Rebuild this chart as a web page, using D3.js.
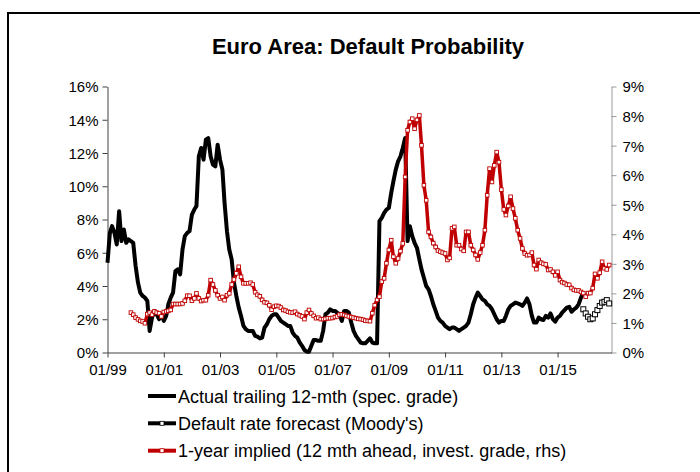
<!DOCTYPE html>
<html>
<head>
<meta charset="utf-8">
<script src="https://cdn.jsdelivr.net/npm/d3@7/dist/d3.min.js"></script>
<style>
  html, body { margin: 0; padding: 0; background: #fff; }
  svg { display: block; font-family: "Liberation Sans", Arial, sans-serif; }
</style>
</head>
<body>
<svg id="chart" width="700" height="472"></svg>
<script>
// ---- Data (monthly, in percent) ----
const actualStart = "1999-01";
// Actual trailing 12-month default rate, speculative grade (left axis)
const actual = [
  5.4, 7.2, 7.6, 7.2, 6.5, 8.5, 6.7, 7.4, 6.6, 6.8, 6.7, 6.6,
  5.2, 4.2, 3.6, 3.4, 3.3, 3.1, 1.3, 2.1, 2.5, 2.3, 2.0, 2.3,
  1.9, 2.2, 2.9, 3.3, 3.6, 4.9, 5.0, 4.7, 6.2, 7.0, 7.2, 7.3,
  8.3, 8.6, 8.8, 11.8, 12.3, 11.6, 12.8, 12.9, 11.8, 11.3, 11.2, 12.5,
  11.6, 11.0, 9.0, 7.3, 6.2, 5.6, 4.2, 3.4, 2.7, 2.2, 1.6, 1.4,
  1.3, 1.3, 1.3, 1.0, 0.95, 0.85, 0.9, 1.5, 1.7, 2.0, 2.2, 2.3,
  2.3, 2.1, 1.9, 1.8, 1.7, 1.6, 1.6, 1.2, 1.0, 0.9, 0.6, 0.4,
  0.15, 0.05, 0.05, 0.4, 0.75, 0.75, 0.7, 0.7, 1.3, 2.3, 2.4, 2.6,
  2.5, 2.5, 2.4, 2.3, 1.9, 2.5, 2.5, 2.4, 1.8, 1.3, 1.0, 0.8,
  0.6, 0.55, 0.55, 0.7, 0.85, 0.6, 0.55, 0.55, 7.9, 8.1, 8.4, 8.6,
  8.7, 9.6, 10.3, 11.0, 11.5, 11.8, 12.3, 12.9, 6.7, 7.6, 7.0, 6.6,
  6.3, 5.6, 5.0, 4.5, 4.0, 3.8, 3.4, 2.9, 2.5, 2.1, 1.9, 1.8,
  1.6, 1.5, 1.4, 1.5, 1.5, 1.4, 1.3, 1.4, 1.5, 1.6, 1.8, 2.3,
  2.9, 3.3, 3.6, 3.4, 3.2, 3.1, 2.9, 2.8, 2.6, 2.3, 2.0, 1.8,
  1.9, 1.9, 2.2, 2.6, 2.8, 2.9, 3.0, 2.95, 2.9, 2.8, 3.0, 3.25,
  2.9, 2.2, 1.8, 1.8, 2.1, 2.0, 1.95, 2.2, 2.1, 2.35, 2.0, 1.85,
  2.1, 2.2, 2.4, 2.55, 2.7, 2.75, 2.45, 2.6, 2.7, 2.9, 3.3, 3.6
];

// Moody's default rate forecast (left axis)
const forecastStart = "2015-12";
const forecast = [2.6, 2.35, 2.15, 2.0, 2.05, 2.3, 2.55, 2.8, 3.0, 3.05, 3.15, 2.95];

// 1-year implied default probability, investment grade, 12 months ahead (right axis)
const impliedStart = "1999-11";
const implied = [
  1.35, 1.28,
  1.18, 1.12, 1.07, 1.05, 0.99, 1.3, 1.35, 1.28, 1.39, 1.35, 1.33, 1.22,
  1.37, 1.39, 1.41, 1.44, 1.64, 1.64, 1.64, 1.64, 1.66, 1.75, 1.92, 1.92,
  1.75, 1.83, 2.0, 1.83, 1.74, 1.77, 1.77, 1.94, 2.45, 2.3, 2.1, 1.94,
  1.83, 1.88, 1.77, 1.94, 2.0, 2.3, 2.47, 2.68, 2.9, 2.56, 2.34, 2.34,
  2.34, 2.36, 2.3, 2.04, 1.95, 1.9, 1.78, 1.7, 1.68, 1.6, 1.45, 1.55,
  1.58, 1.57, 1.52, 1.44, 1.42, 1.38, 1.36, 1.35, 1.38, 1.3, 1.26, 1.22,
  1.13, 1.35, 1.44, 1.32, 1.24, 1.16, 1.18, 1.13, 1.13, 1.14, 1.16, 1.16,
  1.17, 1.2, 1.22, 1.28, 1.29, 1.27, 1.24, 1.22, 1.2, 1.18, 1.16, 1.14,
  1.13, 1.11, 1.08, 1.07, 1.06, 1.33, 1.6, 1.78, 1.89, 2.4, 2.51, 3.02,
  3.47, 3.8, 3.24, 3.02, 3.18, 3.43, 3.69, 5.94, 7.52, 7.8, 7.91, 7.57,
  7.87, 8.02, 7.01, 5.66, 5.15, 4.08, 3.91, 3.7, 3.57, 3.45, 3.41, 3.38,
  3.35, 3.13, 3.2, 4.2, 4.25, 3.63, 3.63, 3.5, 3.44, 4.08, 4.08, 3.63,
  3.47, 3.3, 3.15, 3.38, 3.63, 4.14, 5.32, 6.22, 5.77, 6.33, 6.78, 6.44,
  5.51, 4.84, 4.65, 4.96, 5.27, 4.87, 4.54, 4.14, 3.86, 3.52, 3.35, 3.29,
  3.3, 3.38, 2.96, 2.82, 3.13, 3.04, 3.0, 2.98, 2.79, 2.81, 2.73, 2.61,
  2.73, 2.45, 2.38, 2.35, 2.3, 2.29, 2.18, 2.12, 2.1, 2.1, 2.05, 2.01,
  1.89, 2.01, 2.01, 2.18, 2.66, 2.51, 2.7, 3.07, 2.85, 2.81, 2.96
];

const xDomainLabels = ["1999-01", "2016-12"];
const xTickLabels = ["01/99", "01/01", "01/03", "01/05", "01/07", "01/09", "01/11", "01/13", "01/15"];
const leftTicks = [0, 2, 4, 6, 8, 10, 12, 14, 16];
const rightTicks = [0, 1, 2, 3, 4, 5, 6, 7, 8, 9];

const title = "Euro Area: Default Probability";
const legendLabels = [
  "Actual trailing 12-mth (spec. grade)",
  "Default rate forecast (Moody's)",
  "1-year implied (12 mth ahead, invest. grade, rhs)"
];

// ---- Helpers ----
const parseYM = d3.timeParse("%Y-%m");
const parseTick = d3.timeParse("%m/%y");
const toSeries = (start, values) => {
  const s = parseYM(start);
  return values.map((v, i) => ({ date: d3.timeMonth.offset(s, i), value: v }));
};

const actualData = toSeries(actualStart, actual);
const forecastData = toSeries(forecastStart, forecast);
const impliedData = toSeries(impliedStart, implied);

// ---- Layout ----
const svg = d3.select("#chart");
const plot = { left: 107.5, right: 611.5, top: 86.5, bottom: 352.5 };

// Outer frame
svg.append("rect")
  .attr("x", 8).attr("y", 13)
  .attr("width", 720).attr("height", 500)
  .attr("fill", "none").attr("stroke", "#000").attr("stroke-width", 2);

svg.append("text")
  .attr("x", 368).attr("y", 54)
  .attr("text-anchor", "middle")
  .attr("font-size", 22).attr("font-weight", "bold")
  .text(title);

const x = d3.scaleTime()
  .domain(xDomainLabels.map(parseYM))
  .range([plot.left, plot.right]);
const yL = d3.scaleLinear().domain([0, 16]).range([plot.bottom, plot.top]);
const yR = d3.scaleLinear().domain([0, 9]).range([plot.bottom, plot.top]);

const fmtPct = d => d + "%";
const tickFont = 15;

// Left axis
const gL = svg.append("g").attr("transform", `translate(${plot.left},0)`)
  .call(d3.axisLeft(yL).tickValues(leftTicks).tickFormat(fmtPct).tickSize(5).tickSizeOuter(0));
// Right axis
const gR = svg.append("g").attr("transform", `translate(${plot.right},0)`)
  .call(d3.axisRight(yR).tickValues(rightTicks).tickFormat(fmtPct).tickSize(5).tickSizeOuter(0));
// Bottom axis
const tickDates = xTickLabels.map(parseTick);
const gB = svg.append("g").attr("transform", `translate(0,${plot.bottom})`)
  .call(d3.axisBottom(x).tickValues(tickDates).tickFormat((d, i) => xTickLabels[i]).tickSize(5).tickSizeOuter(0));

[gL, gB].forEach(g => {
  g.select(".domain").attr("stroke", "#404040");
  g.selectAll(".tick line").attr("stroke", "#404040");
});
gR.select(".domain").attr("stroke", "#9a9a9a");
gR.selectAll(".tick line").attr("stroke", "#9a9a9a");

[gL, gR, gB].forEach(g => {
  g.attr("font-family", null).attr("font-size", null);
  g.selectAll(".tick text").attr("font-size", tickFont).attr("fill", "#000");
});
gL.selectAll(".tick text").attr("x", -9).attr("dy", "0.36em");
gR.selectAll(".tick text").attr("x", 11).attr("dy", "0.36em");
gB.selectAll(".tick text").attr("y", 11).attr("dy", "0.75em");

// ---- Series ----
const RED = "#c00000";

const lineL = d3.line().x(d => x(d.date)).y(d => yL(d.value));
const lineR = d3.line().x(d => x(d.date)).y(d => yR(d.value));

// Actual (thick black line)
svg.append("path").datum(actualData)
  .attr("d", lineL)
  .attr("fill", "none").attr("stroke", "#000").attr("stroke-width", 4)
  .attr("stroke-linejoin", "round");

// Forecast (black line with open squares)
svg.append("path").datum(forecastData)
  .attr("d", lineL)
  .attr("fill", "none").attr("stroke", "#000").attr("stroke-width", 1.5);
const fs = 5;
svg.append("g").selectAll("rect").data(forecastData).join("rect")
  .attr("x", d => x(d.date) - fs / 2).attr("y", d => yL(d.value) - fs / 2)
  .attr("width", fs).attr("height", fs)
  .attr("fill", "#fff").attr("stroke", "#000").attr("stroke-width", 1);

// Implied (red line with white square markers, right axis)
svg.append("path").datum(impliedData)
  .attr("d", lineR)
  .attr("fill", "none").attr("stroke", RED).attr("stroke-width", 3.5)
  .attr("stroke-linejoin", "round");
const ms = 3.6;
svg.append("g").selectAll("rect").data(impliedData).join("rect")
  .attr("x", d => x(d.date) - ms / 2).attr("y", d => yR(d.value) - ms / 2)
  .attr("width", ms).attr("height", ms)
  .attr("fill", "#fff").attr("stroke", RED).attr("stroke-width", 0.9);

// ---- Legend ----
const legend = svg.append("g");
const legRows = [396, 423.3, 450.7];
const legX0 = 148, legX1 = 176;
const legStyles = [
  { color: "#000", marker: false },
  { color: "#000", marker: true },
  { color: RED, marker: true }
];
legendLabels.forEach((label, i) => {
  const y = legRows[i];
  const st = legStyles[i];
  legend.append("line")
    .attr("x1", legX0).attr("x2", legX1).attr("y1", y).attr("y2", y)
    .attr("stroke", st.color).attr("stroke-width", 4);
  if (st.marker) {
    legend.append("rect")
      .attr("x", (legX0 + legX1) / 2 - 2).attr("y", y - 2)
      .attr("width", 4).attr("height", 4)
      .attr("fill", "#fff").attr("stroke", st.color).attr("stroke-width", 0.8);
  }
  legend.append("text")
    .attr("x", legX1 + 2).attr("y", y + 6.6)
    .attr("font-size", 18)
    .text(label);
});
</script>
</body>
</html>
